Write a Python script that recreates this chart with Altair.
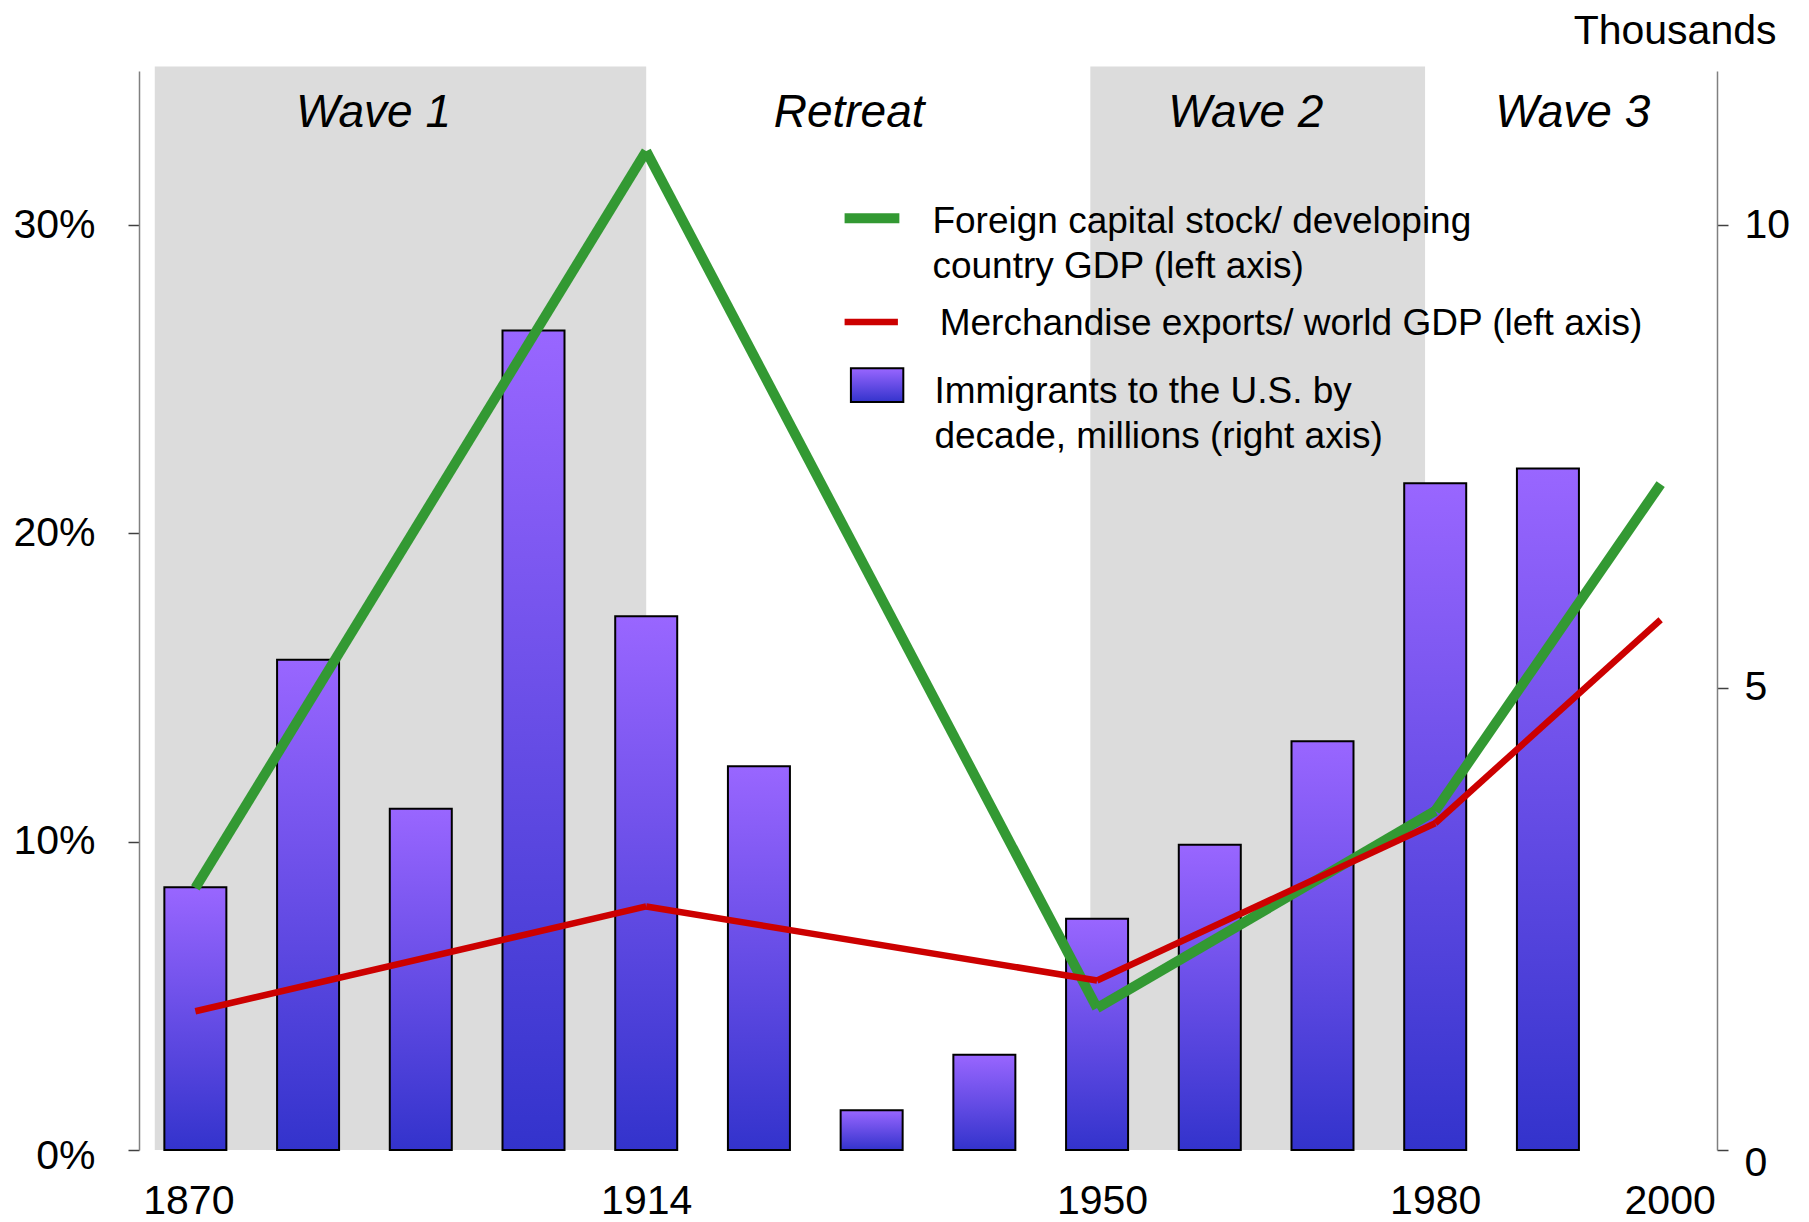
import altair as alt
import pandas as pd

# ---------------- data ----------------
decades = ["1870s", "1880s", "1890s", "1900s", "1910s", "1920s", "1930s",
           "1940s", "1950s", "1960s", "1970s", "1980s", "1990s"]
immigrants = [2.84, 5.30, 3.69, 8.86, 5.77, 4.15, 0.43, 1.03, 2.50, 3.30, 4.42, 7.21, 7.37]

years = ["1870", "1914", "1950", "1980", "2000"]
year_pos = [0, 4, 8, 11, 13]
foreign_capital = [8.5, 32.4, 4.6, 11.0, 21.6]   # % of developing country GDP
merch_exports = [4.5, 7.9, 5.5, 10.6, 17.2]      # % of world GDP

period_names = ["Wave 1", "Retreat", "Wave 2", "Wave 3"]
period_label_pos = [1.58, 5.80, 9.32, 12.22]
shade_start = [-0.36, 7.94]
shade_end = [4.0, 10.91]

legend_labels = ["Foreign capital stock/ developing\ncountry GDP (left axis)",
                 "Merchandise exports/ world GDP (left axis)",
                 "Immigrants to the U.S. by\ndecade, millions (right axis)"]

# ---------------- style ----------------
FONT = "Liberation Sans, Arial, sans-serif"
GREEN = "#339933"
RED = "#CC0000"
SHADE = "#DCDCDC"
BAR_GRAD = {"gradient": "linear", "x1": 0, "x2": 0, "y1": 0, "y2": 1,
            "stops": [{"offset": 0, "color": "#9966FF"}, {"offset": 1, "color": "#3333CC"}]}
LEFT_MAX = 35.0
RIGHT_MAX = LEFT_MAX / 3.0

label_expr = "[" + ",".join("'%s'" % y for y in years) + "][indexof([" + \
    ",".join(str(p) for p in year_pos) + "], datum.value)]"

xscale = alt.Scale(domain=[-0.5, 13.5], nice=False, zero=False, padding=0)
xaxis = alt.Axis(values=year_pos, labelExpr=label_expr, title=None, grid=False,
                 ticks=False, tickSize=0, domain=False, labelFont=FONT, labelFontSize=41,
                 labelColor="black", labelPadding=63, labelBaseline="alphabetic",
                 labelOverlap=False, labelFlush=False,
                 labelOffset={"condition": [{"test": "datum.value === 0", "value": -7},
                                            {"test": "datum.value === 8", "value": 5},
                                            {"test": "datum.value === 13", "value": 9}],
                              "value": 0})

def X(field):
    return alt.X(field, type="quantitative", scale=xscale, axis=xaxis)

lscale = alt.Scale(domain=[0, LEFT_MAX], nice=False, zero=True)
left_axis = alt.Axis(orient="left", values=[0, 10, 20, 30], labelExpr="datum.value + '%'",
                     title=None, grid=False, domainColor="#808080", domainWidth=1.5,
                     tickColor="#404040", tickWidth=1.5, tickSize=11,
                     labelFont=FONT, labelFontSize=41, labelColor="black", labelPadding=33,
                     labelOffset={"condition": {"test": "datum.value === 0", "value": 6}, "value": 0})
rscale = alt.Scale(domain=[0, RIGHT_MAX], nice=False, zero=True)
right_axis = alt.Axis(orient="right", values=[0, 5, 10], title="Thousands", grid=False,
                      domainColor="#808080", domainWidth=1.5, tickColor="#404040",
                      tickWidth=1.5, tickSize=11, labelFont=FONT, labelFontSize=41,
                      labelColor="black", labelPadding=16,
                      labelOffset={"condition": {"test": "datum.value === 0", "value": 13}, "value": 0},
                      titleAngle=0, titleAlign="right", titleBaseline="alphabetic",
                      titleX=59, titleY=-28, titleFont=FONT, titleFontSize=41,
                      titleFontWeight="normal", titleColor="black")

# ---------------- tables ----------------
bars_df = pd.DataFrame({"decade": decades, "pos": list(range(len(decades))), "value": immigrants})
shade_df = pd.DataFrame({"start": shade_start, "end": shade_end})
period_df = pd.DataFrame({"name": period_names, "pos": period_label_pos})

seg_rows = []
for name, vals in (("Foreign capital", foreign_capital), ("Merchandise exports", merch_exports)):
    for i in range(len(year_pos) - 1):
        seg_rows.append({"series": name, "x": year_pos[i], "x2": year_pos[i + 1],
                         "y": vals[i], "y2": vals[i + 1]})
seg_df = pd.DataFrame(seg_rows)

legend_line_df = pd.DataFrame({"series": ["Foreign capital", "Merchandise exports"],
                               "x": [5.76, 5.76], "x2": [6.246, 6.233], "y": [30.22, 26.86]})
legend_box_df = pd.DataFrame({"x": [5.816], "x2": [6.281], "y": [25.36], "y2": [24.26]})
legend_text_df = pd.DataFrame({"label": legend_labels, "x": [6.539, 6.604, 6.557],
                               "y": [29.73, 26.43, 24.22]})

# ---------------- layers ----------------
shade = alt.Chart(shade_df).mark_rect(color=SHADE).encode(
    x=X("start"), x2="end",
    y=alt.Y("top:Q", scale=lscale, axis=left_axis), y2="bottom:Q"
).transform_calculate(top="35.15", bottom="0")

wave_text = alt.Chart(period_df).mark_text(
    font=FONT, fontSize=46, fontStyle="italic", color="black", align="center",
    baseline="alphabetic"
).encode(x=X("pos"), y=alt.Y("ty:Q", scale=lscale, axis=left_axis), text="name:N"
         ).transform_calculate(ty="33.17")

layer_a = alt.layer(shade, wave_text)

bars = alt.Chart(bars_df).mark_bar(width=62, fill=BAR_GRAD, stroke="black", strokeWidth=2).encode(
    x=X("pos"), y=alt.Y("value:Q", scale=rscale, axis=right_axis)
)

noaxis_y = lambda f: alt.Y(f, type="quantitative", scale=lscale, axis=None)

series_dom = ["Foreign capital", "Merchandise exports"]

lines = alt.Chart(seg_df).mark_rule(strokeCap="butt").encode(
    x=X("x"), x2="x2", y=noaxis_y("y"), y2="y2",
    color=alt.Color("series:N", scale=alt.Scale(domain=series_dom, range=[GREEN, RED]), legend=None),
    strokeWidth=alt.StrokeWidth("series:N", scale=alt.Scale(domain=series_dom, range=[10, 6.5]), legend=None)
)

legend_lines = alt.Chart(legend_line_df).mark_rule(strokeCap="butt").encode(
    x=X("x"), x2="x2", y=noaxis_y("y"),
    color=alt.Color("series:N", scale=alt.Scale(domain=series_dom, range=[GREEN, RED]), legend=None),
    strokeWidth=alt.StrokeWidth("series:N", scale=alt.Scale(domain=series_dom, range=[10, 7]), legend=None)
)

legend_box = alt.Chart(legend_box_df).mark_rect(fill=BAR_GRAD, stroke="black", strokeWidth=2).encode(
    x=X("x"), x2="x2", y=noaxis_y("y"), y2="y2"
)

legend_text = alt.Chart(legend_text_df).mark_text(
    font=FONT, fontSize=37, color="black", align="left", baseline="alphabetic",
    lineBreak="\n", lineHeight=45
).encode(x=X("x"), y=noaxis_y("y"), text="label:N")

layer_c = alt.layer(lines, legend_lines, legend_box, legend_text)

chart = alt.layer(layer_a, bars, layer_c).resolve_scale(
    y="independent", color="independent", strokeWidth="independent"
).properties(
    width=1578, height=1079,
    autosize=alt.AutoSizeParams(type="none"),
    padding={"left": 131, "top": 63, "right": 84, "bottom": 72},
    background="white"
).configure_view(stroke=None)

chart.save("out.html", embed_options={"renderer": "svg", "actions": False})
